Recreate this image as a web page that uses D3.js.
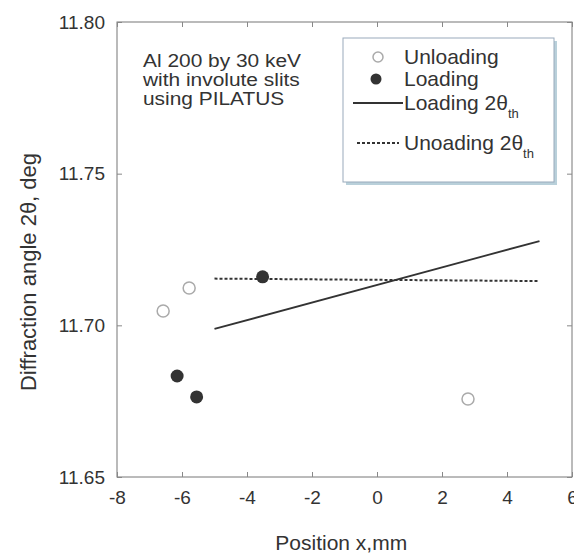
<!DOCTYPE html>
<html>
<head>
<meta charset="utf-8">
<script src="https://cdn.jsdelivr.net/npm/d3@7"></script>
<style>
  body { margin: 0; background: #fff; }
  text { font-family: "Liberation Sans", Arial, sans-serif; fill: #333; }
</style>
</head>
<body>
<div id="chart"></div>
<script>
// values
var unloadX = [-6.58, -5.78, 2.8]
var unloadY = [11.7047, 11.7123, 11.6757]
var loadX = [-6.15, -5.55, -3.52]
var loadY = [11.6833, 11.6764, 11.7160]
var loadLineX = [-5, 5]
var loadLineY = [11.6988, 11.7278]
var unloadLineX = [-5, 5]
var unloadLineY = [11.7154, 11.7146]
var xTicks = [-8, -6, -4, -2, 0, 2, 4, 6]
var yTicks = [11.65, 11.70, 11.75, 11.80]

var W = 574, H = 558
var margin = {left: 117, right: 2, top: 22, bottom: 81}

var svg = d3.select("#chart").append("svg").attr("width", W).attr("height", H)

var x = d3.scaleLinear().domain([-8, 6]).range([margin.left, W - margin.right])
var y = d3.scaleLinear().domain([11.65, 11.80]).range([H - margin.bottom, margin.top])

// frame
svg.append("rect")
  .attr("x", x(-8)).attr("y", y(11.80))
  .attr("width", x(6) - x(-8)).attr("height", y(11.65) - y(11.80))
  .attr("fill", "none").attr("stroke", "#777").attr("stroke-width", 1)

// axes, ticks pointing inward
var xAxis = svg.append("g").attr("transform", "translate(0," + y(11.65) + ")")
  .call(d3.axisBottom(x).tickValues(xTicks).tickSize(-5).tickPadding(14).tickFormat(function(d){ return String(d) }))
var xTop = svg.append("g").attr("transform", "translate(0," + y(11.80) + ")")
  .call(d3.axisTop(x).tickValues(xTicks).tickSize(-5).tickFormat(""))
var yAxis = svg.append("g").attr("transform", "translate(" + x(-8) + ",0)")
  .call(d3.axisLeft(y).tickValues(yTicks).tickSize(-5).tickPadding(12).tickFormat(d3.format(".2f")))
var yRight = svg.append("g").attr("transform", "translate(" + x(6) + ",0)")
  .call(d3.axisRight(y).tickValues(yTicks).tickSize(-5).tickFormat(""))

svg.selectAll(".domain").remove()
svg.selectAll(".tick line").attr("stroke", "#888")
svg.selectAll(".tick text").style("font-size", "19px").style("font-family", "Liberation Sans, Arial, sans-serif").attr("fill", "#333")

// axis titles
svg.append("text")
  .attr("x", x(-1.1)).attr("y", 550)
  .attr("text-anchor", "middle")
  .style("font-size", "21px")
  .text("Position x,mm")

svg.append("text")
  .attr("transform", "translate(36," + 272 + ") rotate(-90)")
  .attr("text-anchor", "middle")
  .style("font-size", "22px")
  .text("Diffraction angle 2θ, deg")

// fitted lines
var line = d3.line().x(function(d){ return x(d[0]) }).y(function(d){ return y(d[1]) })

svg.append("path")
  .attr("d", line(d3.zip(loadLineX, loadLineY)))
  .attr("fill", "none").attr("stroke", "#333").attr("stroke-width", 1.8)

svg.append("path")
  .attr("d", line(d3.zip(unloadLineX, unloadLineY)))
  .attr("fill", "none").attr("stroke", "#333").attr("stroke-width", 2)
  .attr("stroke-dasharray", "3,2")

// points
svg.selectAll(".unload").data(d3.zip(unloadX, unloadY)).enter().append("circle")
  .attr("class", "unload")
  .attr("cx", function(d){ return x(d[0]) })
  .attr("cy", function(d){ return y(d[1]) })
  .attr("r", 6)
  .attr("fill", "#fff").attr("stroke", "#aaa").attr("stroke-width", 1.5)

svg.selectAll(".load").data(d3.zip(loadX, loadY)).enter().append("circle")
  .attr("class", "load")
  .attr("cx", function(d){ return x(d[0]) })
  .attr("cy", function(d){ return y(d[1]) })
  .attr("r", 6.5)
  .attr("fill", "#333")

// annotation (text in the scan is a bit wider than the font, so stretch it)
var note = ["Al 200 by 30 keV", "with involute slits", "using PILATUS"]
svg.append("g").attr("transform", "translate(143,0) scale(1.1,1)")
  .selectAll("text").data(note).enter().append("text")
  .attr("x", 0)
  .attr("y", function(d, i){ return 67 + i * 19 })
  .style("font-size", "19px")
  .text(function(d){ return d })

// legend
var lg = svg.append("g").attr("transform", "translate(343,38)")
lg.append("rect").attr("x", 3).attr("y", 3).attr("width", 211).attr("height", 144).attr("fill", "#b9d0da")
lg.append("rect").attr("width", 211).attr("height", 144).attr("fill", "#fff").attr("stroke", "#9ab").attr("stroke-width", 1)

lg.append("circle").attr("cx", 35).attr("cy", 19).attr("r", 5).attr("fill", "#fff").attr("stroke", "#aaa").attr("stroke-width", 1.5)
lg.append("circle").attr("cx", 33).attr("cy", 41).attr("r", 5.5).attr("fill", "#333")
lg.append("line").attr("x1", 10).attr("x2", 60).attr("y1", 65).attr("y2", 65).attr("stroke", "#333").attr("stroke-width", 1.8)
lg.append("line").attr("x1", 14).attr("x2", 56).attr("y1", 105).attr("y2", 105).attr("stroke", "#333").attr("stroke-width", 2).attr("stroke-dasharray", "3,2")

var legendText = ["Unloading", "Loading", "Loading 2θ", "Unoading 2θ"]
var legendY = [26, 48, 72, 112]
lg.selectAll(".lt").data(legendText).enter().append("text")
  .attr("x", 61)
  .attr("y", function(d, i){ return legendY[i] })
  .style("font-size", "21px")
  .each(function(d, i){
    var t = d3.select(this)
    t.append("tspan").text(d)
    if (i >= 2) t.append("tspan").attr("dy", 8).style("font-size", "13px").text("th")
  })
</script>
</body>
</html>
